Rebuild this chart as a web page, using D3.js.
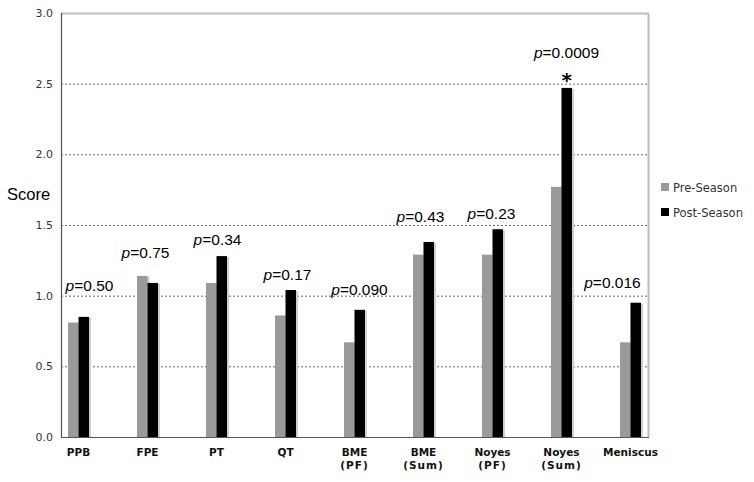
<!DOCTYPE html>
<html>
<head>
<meta charset="utf-8">
<script src="https://cdn.jsdelivr.net/npm/d3@7"></script>
<style>
  body { margin: 0; background: #fff; }
  svg { display: block; }
</style>
</head>
<body>
<div id="chart"></div>
<script>
// categories (second line in parentheses shown under the name)
const categories = ['PPB', 'FPE', 'PT', 'QT', 'BME\n(PF)', 'BME\n(Sum)', 'Noyes\n(PF)', 'Noyes\n(Sum)', 'Meniscus']
const preSeason = [0.81, 1.14, 1.09, 0.86, 0.67, 1.29, 1.29, 1.77, 0.67]
const postSeason = [0.85, 1.09, 1.28, 1.04, 0.90, 1.38, 1.47, 2.47, 0.95]
const pValues = ['0.50', '0.75', '0.34', '0.17', '0.090', '0.43', '0.23', '0.0009', '0.016']
// score level where each p label sits, and its nudge (px) off the group centre
const pLabelAt = [1.033, 1.267, 1.358, 1.111, 1.005, 1.521, 1.542, 2.68, 1.054]
const pLabelNudge = [11, -2, 1, 2, 5, -3, -1, 5, -18]
const significant = [false, false, false, false, false, false, false, true, false]
const yTicks = [0, 0.5, 1.0, 1.5, 2.0, 2.5, 3.0]
const seriesNames = ['Pre-Season', 'Post-Season']
const seriesColors = ['#9a9a9a', '#000000']

const W = 754, H = 482
const m = { left: 61, right: 648, top: 13, bottom: 437 }

const svg = d3.select('#chart').append('svg').attr('width', W).attr('height', H)

const x = d3.scalePoint().domain(categories).range([m.left, m.right]).padding(0.254)
const y = d3.scaleLinear().domain([0, 3]).range([m.bottom, m.top])
const barW = 10.5

// gridlines
svg.append('g')
    .selectAll('line')
    .data(yTicks.filter(t => t > 0 && t < 3))
    .enter().append('line')
    .attr('x1', m.left).attr('x2', m.right)
    .attr('y1', d => y(d) + 0.5).attr('y2', d => y(d) + 0.5)
    .attr('stroke', '#666').attr('stroke-width', 1)
    .attr('stroke-dasharray', '2,2')

// top and right frame
svg.append('line').attr('x1', m.left).attr('x2', m.right).attr('y1', y(3) + 0.5).attr('y2', y(3) + 0.5)
    .attr('stroke', '#bbb').attr('stroke-width', 2)
svg.append('line').attr('x1', m.right + 0.5).attr('x2', m.right + 0.5).attr('y1', y(3)).attr('y2', y(0))
    .attr('stroke', '#bbb').attr('stroke-width', 2)

// bars
const series = [preSeason, postSeason]
series.forEach((vals, s) => {
    const g = svg.append('g')
    const bx = (d, i) => x(categories[i]) - barW + s * barW
    // soft shadow
    g.selectAll('rect.shadow').data(vals).enter().append('rect')
        .attr('class', 'shadow')
        .attr('x', (d, i) => bx(d, i) + 2)
        .attr('y', d => y(d) + 1)
        .attr('width', barW)
        .attr('height', d => y(0) - y(d) - 1)
        .attr('fill', '#d0d0d0')
    g.selectAll('rect.bar').data(vals).enter().append('rect')
        .attr('class', 'bar')
        .attr('x', (d, i) => bx(d, i))
        .attr('y', d => y(d))
        .attr('width', barW)
        .attr('height', d => y(0) - y(d))
        .attr('fill', seriesColors[s])
})

// axes lines
svg.append('line').attr('x1', m.left + 0.5).attr('x2', m.left + 0.5).attr('y1', y(3)).attr('y2', y(0) + 1)
    .attr('stroke', '#555').attr('stroke-width', 1.2)
svg.append('line').attr('x1', m.left).attr('x2', m.right + 1).attr('y1', y(0) + 0.5).attr('y2', y(0) + 0.5)
    .attr('stroke', '#555').attr('stroke-width', 1.2)

// y tick labels
svg.append('g')
    .selectAll('text')
    .data(yTicks)
    .enter().append('text')
    .attr('x', m.left - 8)
    .attr('y', d => y(d) + 4)
    .attr('text-anchor', 'end')
    .attr('font-family', 'DejaVu Sans, Verdana, sans-serif')
    .attr('font-size', 11)
    .attr('fill', '#333')
    .text(d => d.toFixed(1))

// y title
svg.append('text')
    .attr('x', 7).attr('y', 200)
    .attr('font-family', 'Liberation Sans, Arial, sans-serif')
    .attr('font-size', 16.5)
    .attr('fill', '#000')
    .text('Score')

// x labels
const xl = svg.append('g')
    .selectAll('text')
    .data(categories)
    .enter().append('text')
    .attr('x', d => x(d))
    .attr('y', 456)
    .attr('text-anchor', 'middle')
    .attr('font-family', 'DejaVu Sans, Verdana, sans-serif')
    .attr('font-size', 10.5)
    .attr('font-weight', 'bold')
    .attr('fill', '#111')
xl.each(function (d) {
    const parts = d.split('\n')
    const t = d3.select(this)
    parts.forEach((p, i) => {
        t.append('tspan')
            .attr('x', x(d))
            .attr('dy', i === 0 ? 0 : 13)
            .attr('letter-spacing', i === 0 ? 0 : 1)
            .text(p)
    })
})

// p-value labels
const pl = svg.append('g')
    .selectAll('text')
    .data(categories)
    .enter().append('text')
    .attr('x', (d, i) => x(d) + pLabelNudge[i])
    .attr('y', (d, i) => y(pLabelAt[i]))
    .attr('text-anchor', 'middle')
    .attr('font-family', 'Liberation Sans, Arial, sans-serif')
    .attr('font-size', 15.5)
    .attr('fill', '#000')
pl.append('tspan').attr('font-style', 'italic').text('p')
pl.append('tspan').text((d, i) => '=' + pValues[i])

// significance marker
svg.append('g')
    .selectAll('text')
    .data(categories.filter((d, i) => significant[i]))
    .enter().append('text')
    .attr('x', d => x(d) + barW / 2)
    .attr('y', d => y(postSeason[categories.indexOf(d)]) - 1)
    .attr('text-anchor', 'middle')
    .attr('font-family', 'DejaVu Sans, sans-serif')
    .attr('font-size', 20)
    .attr('font-weight', 'bold')
    .text('*')

// legend
const lg = svg.append('g')
    .selectAll('g')
    .data(seriesNames)
    .enter().append('g')
    .attr('transform', (d, i) => `translate(661, ${183 + i * 25})`)
lg.append('rect').attr('width', 8).attr('height', 8).attr('fill', (d, i) => seriesColors[i])
lg.append('text')
    .attr('x', 12).attr('y', 9)
    .attr('font-family', 'DejaVu Sans, Verdana, sans-serif')
    .attr('font-size', 11.5)
    .attr('fill', '#333')
    .text(d => d)
</script>
</body>
</html>
